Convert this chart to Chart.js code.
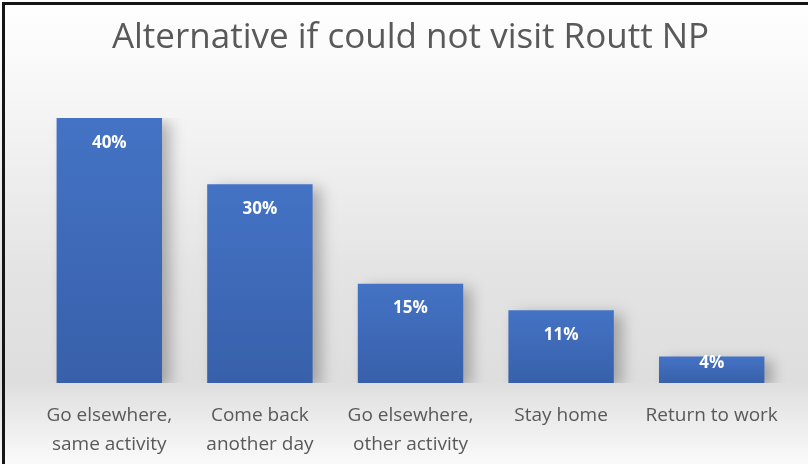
<!DOCTYPE html>
<html>
<head>
<meta charset="utf-8">
<script src="https://cdn.jsdelivr.net/npm/chart.js@4"></script>
<style>
  html, body { margin: 0; padding: 0; background: #fff; }
  #wrap { width: 808px; height: 464px; position: relative; }
</style>
</head>
<body>
<div id="wrap"><canvas id="chart" width="808" height="464"></canvas></div>
<script>
// values
const categories = [
  ["Go elsewhere,", "same activity"],
  ["Come back", "another day"],
  ["Go elsewhere,", "other activity"],
  ["Stay home"],
  ["Return to work"],
];
const shares = [40, 30, 15, 11, 4];
const valueLabels = ["40%", "30%", "15%", "11%", "4%"];

const FONT = "'Open Sans', 'Noto Sans', sans-serif";

// background gradient + the dark frame on the left and top
const backdrop = {
  id: "backdrop",
  beforeDraw(chart) {
    const { ctx, width, height } = chart;
    const g = ctx.createLinearGradient(0, 0, 0, height);
    g.addColorStop(0, "#ffffff");
    g.addColorStop(0.15, "#f9f9f9");
    g.addColorStop(0.6, "#e3e3e3");
    g.addColorStop(0.82, "#dedede");
    g.addColorStop(1, "#fafafa");
    ctx.save();
    ctx.fillStyle = g;
    ctx.fillRect(0, 0, width, height);
    ctx.fillStyle = "#151515";
    ctx.fillRect(2, 2, 3, height);
    ctx.fillRect(2, 2, width, 3);
    ctx.restore();
  },
  // soft shadow under the bars
  beforeDatasetsDraw(chart) {
    const ctx = chart.ctx;
    ctx.save();
    ctx.shadowColor = "rgba(0,0,0,0.28)";
    ctx.shadowBlur = 14;
    ctx.shadowOffsetX = 8;
    ctx.shadowOffsetY = 4;
  },
  afterDatasetsDraw(chart) {
    chart.ctx.restore();
  },
};

// white value labels just inside the top of each bar
const barLabels = {
  id: "barLabels",
  afterDatasetsDraw(chart) {
    const { ctx } = chart;
    const meta = chart.getDatasetMeta(0);
    ctx.save();
    ctx.font = "bold 17px " + FONT;
    ctx.fillStyle = "#ffffff";
    ctx.textAlign = "center";
    ctx.textBaseline = "middle";
    meta.data.forEach((bar, i) => {
      const y = Math.min(bar.y + 25, bar.base - 20);
      ctx.fillText(valueLabels[i], bar.x, y);
    });
    ctx.restore();
  },
};

const barFill = (context) => {
  const chart = context.chart;
  const ys = chart.scales.y;
  if (!ys || !chart.chartArea || context.parsed === undefined) return "#4070c0";
  const top = ys.getPixelForValue(context.parsed.y);
  const bottom = ys.getPixelForValue(0);
  if (!isFinite(top) || !isFinite(bottom) || top === bottom) return "#4070c0";
  const g = chart.ctx.createLinearGradient(0, top, 0, bottom);
  g.addColorStop(0, "#4473c5");
  g.addColorStop(1, "#3860aa");
  return g;
};

new Chart(document.getElementById("chart"), {
  type: "bar",
  data: {
    labels: categories,
    datasets: [{
      data: shares,
      backgroundColor: barFill,
      borderWidth: 0,
      categoryPercentage: 0.7,
      barPercentage: 1,
    }],
  },
  options: {
    responsive: false,
    animation: false,
    layout: { padding: { left: 34, right: 21, top: 0, bottom: 6 } },
    plugins: {
      legend: { display: false },
      tooltip: { enabled: false },
      title: {
        display: true,
        text: "Alternative if could not visit Routt NP",
        color: "#595959",
        font: { family: FONT, size: 35, weight: "normal", lineHeight: 1.2 },
        padding: { top: 17, bottom: 59 },
      },
    },
    scales: {
      y: { display: false, min: 0, max: 40 },
      x: {
        grid: { display: false },
        border: { display: false },
        afterFit(scale) {
          scale.height = 75;
        },
        ticks: {
          color: "#595959",
          padding: 10,
          maxRotation: 0,
          autoSkip: false,
          font: { family: FONT, size: 19, lineHeight: 1.53 },
        },
      },
    },
  },
  plugins: [backdrop, barLabels],
});
</script>
</body>
</html>
